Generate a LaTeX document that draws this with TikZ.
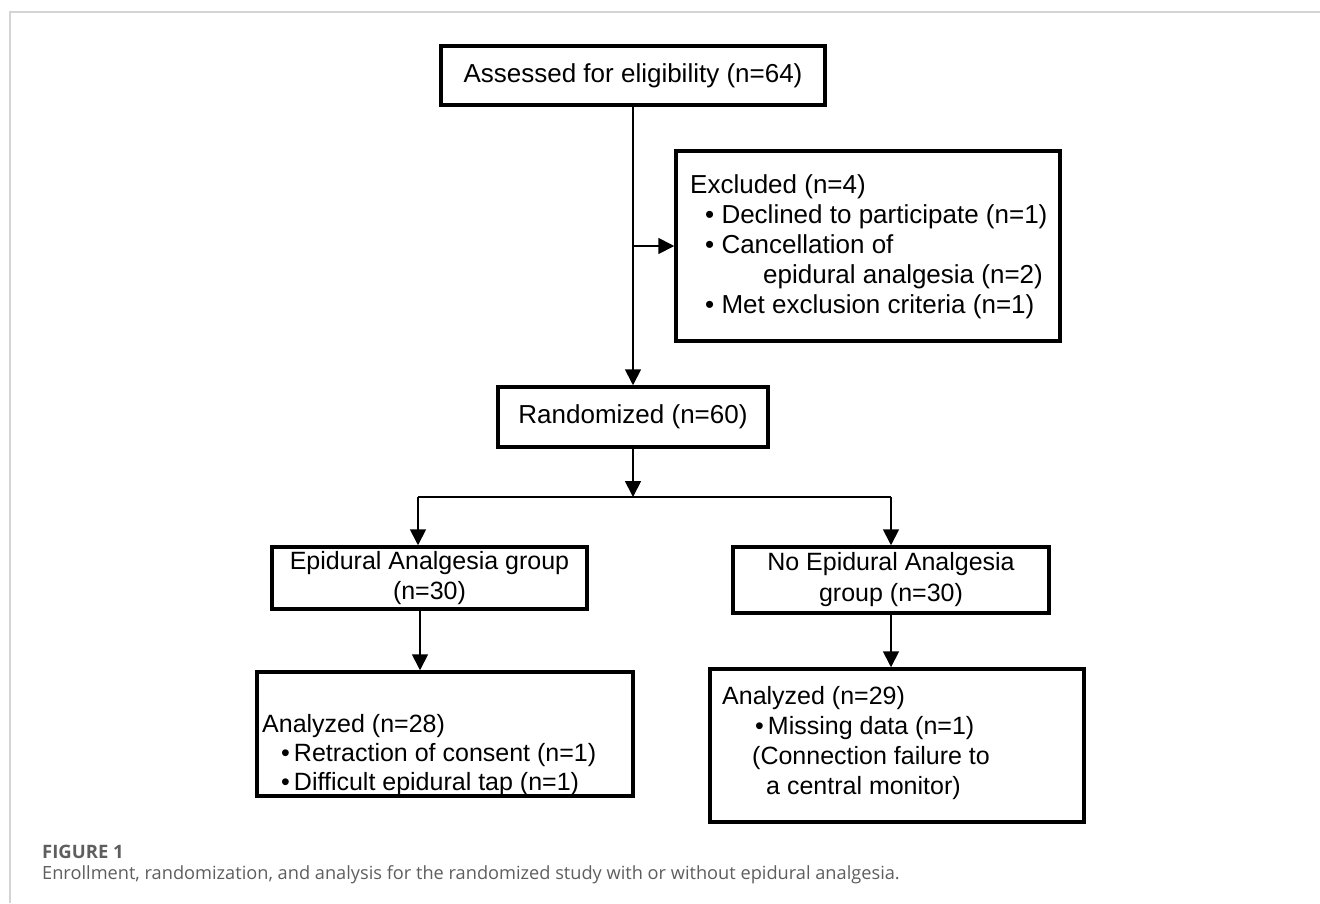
\documentclass[tikz,border=0pt]{standalone}
\usepackage{fontspec}
\setmainfont{Liberation Sans}
\newfontfamily\capfont{Open Sans}
\usetikzlibrary{arrows.meta}
\definecolor{framegray}{HTML}{D4D4D4}
\definecolor{capgray}{HTML}{5E5E5E}
\begin{document}
\begin{tikzpicture}[x=1pt,y=-1pt,
  box/.style={draw=black,line width=3.5pt,inner sep=0pt,align=center},
  conn/.style={line width=1.8pt},
  arr/.style={conn,-{Triangle[length=16pt,width=16pt]}},
  big/.style={font=\fontsize{26}{30}\selectfont},
  small/.style={font=\fontsize{25}{30}\selectfont},
  listtxt/.style={align=left,anchor=west,inner sep=0pt},
  capt/.style={anchor=base west,inner sep=0pt,text=capgray}]
\useasboundingbox (0,0) rectangle (1320,903);
\draw[framegray,line width=2pt] (10,903) -- (10,12) -- (1320,12);

% boxes
\node[box,big,minimum width=384pt,minimum height=59pt] (assess) at (633,75.5) {Assessed for eligibility (n=64)};
\node[box,minimum width=384pt,minimum height=190pt] (excl) at (868,246) {};
\node[box,big,minimum width=270pt,minimum height=60pt] (rand) at (633,417) {Randomized (n=60)};
\node[box,small,minimum width=315pt,minimum height=62pt] (g1) at (429.5,578) {Epidural Analgesia group\\(n=30)};
\node[box,small,minimum width=316pt,minimum height=66pt,font=\fontsize{25}{31}\selectfont] (g2) at (891,580) {No Epidural Analgesia\\group (n=30)};
\node[box,minimum width=376pt,minimum height=124pt] (an1) at (445,734) {};
\node[box,minimum width=374pt,minimum height=153pt] (an2) at (897,745.5) {};

% box texts
\node[listtxt,big] (excltxt) at (690,247) {Excluded (n=4)\\
\hspace{15pt}• Declined to participate (n=1)\\
\hspace{15pt}• Cancellation of\\
\hspace{73pt}epidural analgesia (n=2)\\
\hspace{15pt}• Met exclusion criteria (n=1)};
\node[listtxt,small,font=\fontsize{25}{29}\selectfont] (an1txt) at (262,755) {Analyzed (n=28)\\
\hspace{19pt}•\hspace{4pt}Retraction of consent (n=1)\\
\hspace{19pt}•\hspace{4pt}Difficult epidural tap (n=1)};
\node[listtxt,small] (an2txt) at (722,743) {Analyzed (n=29)\\
\hspace{33pt}•\hspace{4pt}Missing data (n=1)\\
\hspace{30pt}(Connection failure to\\
\hspace{44pt}a central monitor)};

% connectors
\draw[arr] (assess.south) -- (rand.north);
\draw[arr] (assess.south |- excl.west) -- (excl.west);
\coordinate (split) at (633,497);
\coordinate (sl) at (418,497);
\coordinate (sr) at (891,497);
\coordinate (lx) at (420,0);
\draw[arr] (rand.south) -- (split);
\draw[conn] (sl) -- (sr);
\draw[arr] (sl) -- (sl |- g1.north);
\draw[arr] (sr) -- (sr |- g2.north);
\draw[arr] (g1.south -| lx) -- (an1.north -| lx);
\draw[arr] (g2.south) -- (g2.south |- an2.north);

% caption
\node[capt,font=\capfont\bfseries\fontsize{18.5}{20}\selectfont] (figlabel) at (42,858) {FIGURE 1};
\node[capt,font=\capfont\fontsize{18.2}{20}\selectfont] (caption) at (42,879) {Enrollment, randomization, and analysis for the randomized study with or without epidural analgesia.};
\end{tikzpicture}
\end{document}
